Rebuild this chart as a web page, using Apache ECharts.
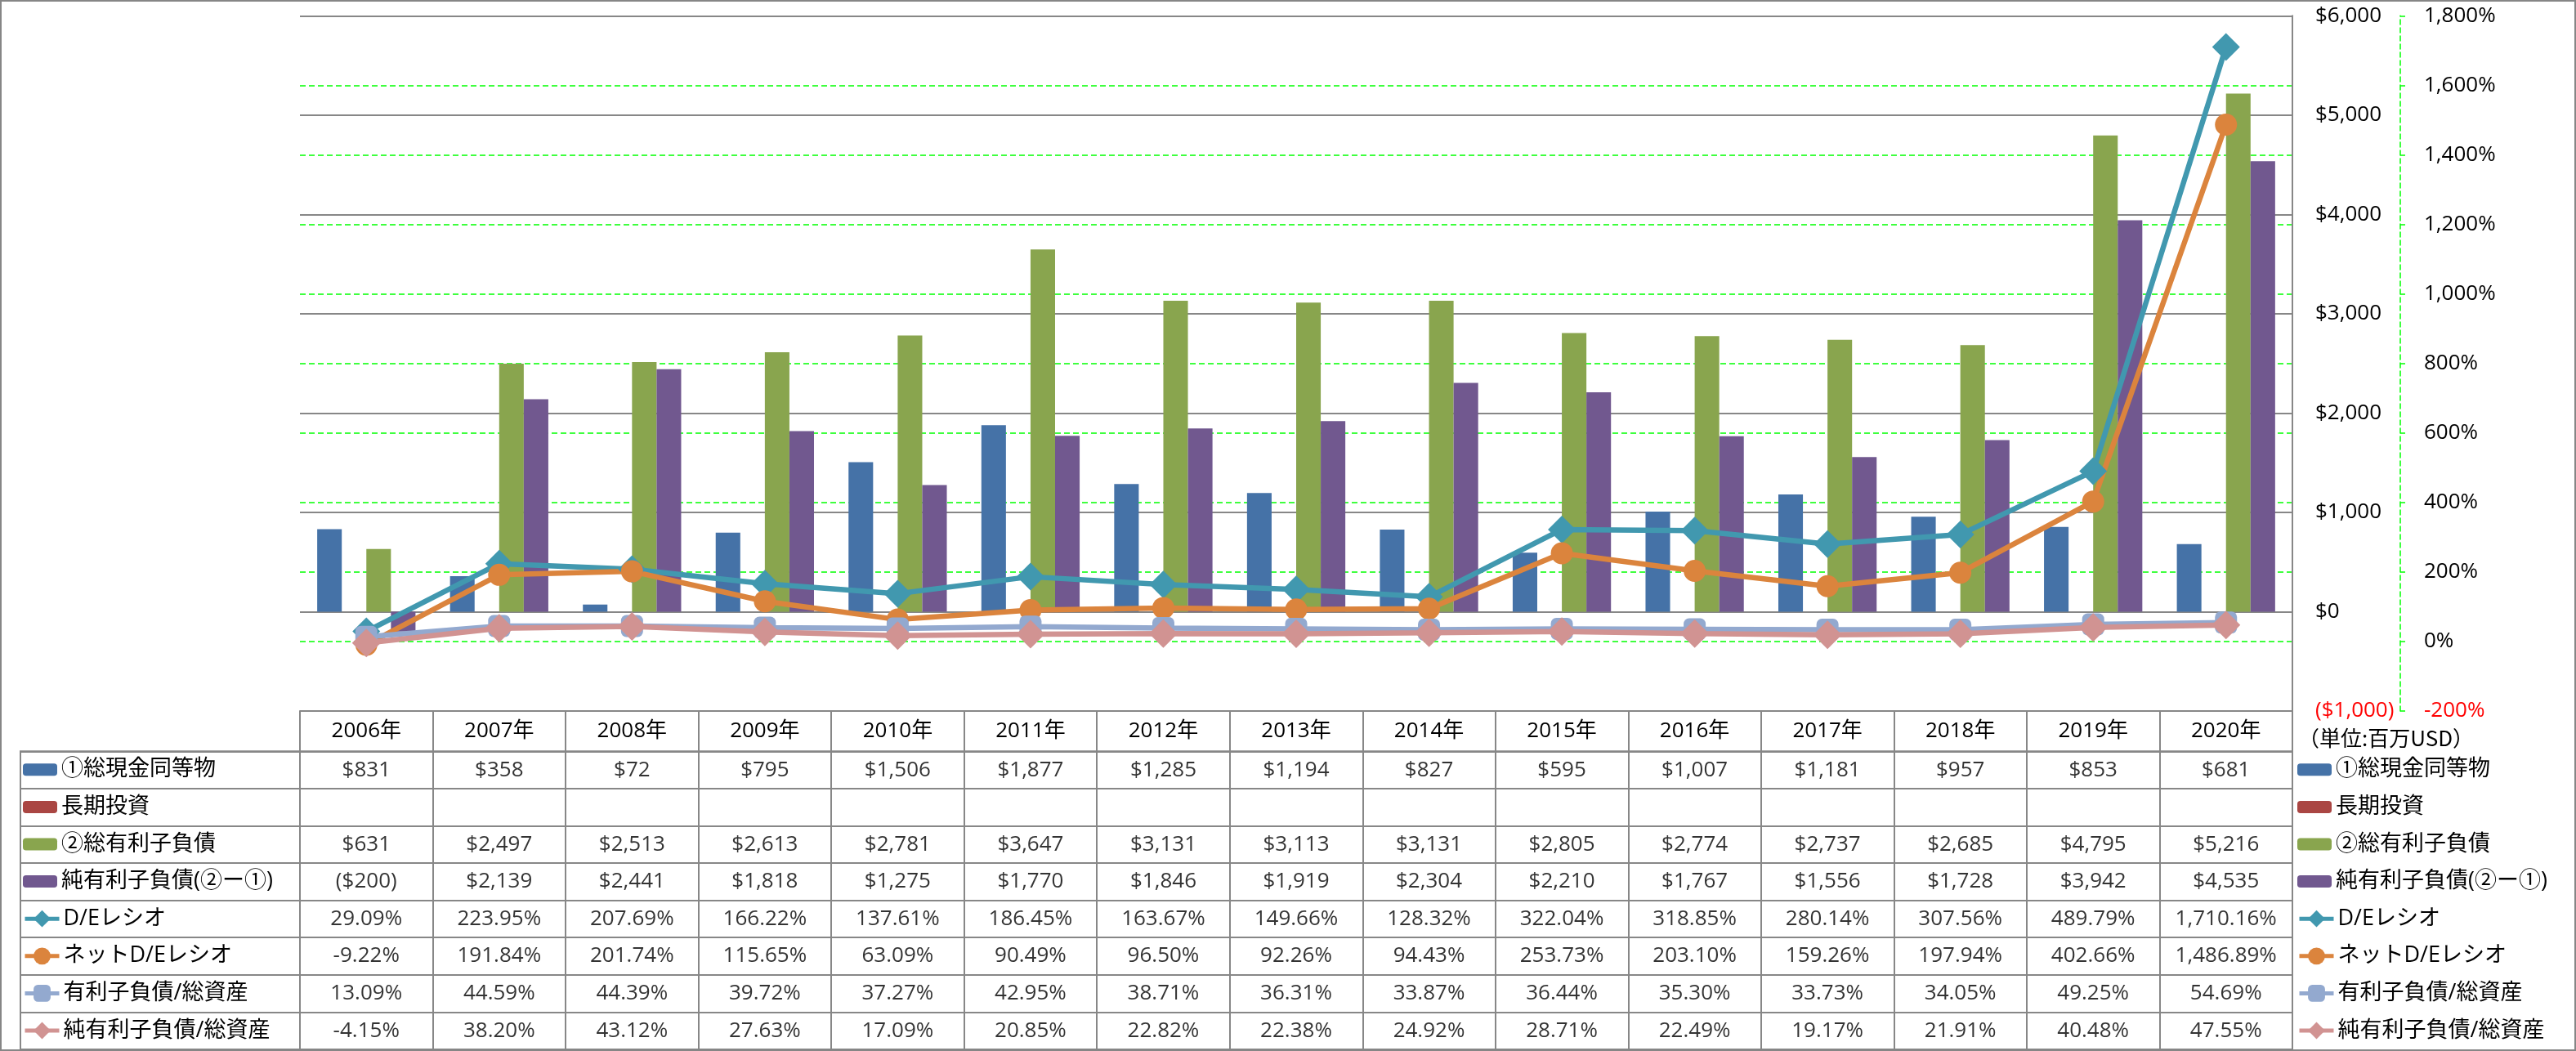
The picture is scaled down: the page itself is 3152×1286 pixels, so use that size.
<!DOCTYPE html>
<html><head><meta charset="utf-8">
<script src="https://cdn.jsdelivr.net/npm/echarts@6/dist/echarts.min.js"></script>
<style>
html,body{margin:0;padding:0;background:#fff;}
#c{position:absolute;left:0;top:0;width:3152px;height:1286px;}
#frame{position:absolute;left:0;top:0;width:3152px;height:1286px;box-sizing:border-box;border:2px solid #868686;pointer-events:none;}
</style></head>
<body><div id="c"></div><div id="frame"></div>
<script>
// ---------- data ----------
const years = ['2006年','2007年','2008年','2009年','2010年','2011年','2012年','2013年','2014年','2015年','2016年','2017年','2018年','2019年','2020年'];
const seriesNames = ['①総現金同等物','長期投資','②総有利子負債','純有利子負債(②ー①)','D/Eレシオ','ネットD/Eレシオ','有利子負債/総資産','純有利子負債/総資産'];
const cash = [831,358,72,795,1506,1877,1285,1194,827,595,1007,1181,957,853,681];
const longTermInv = [null,null,null,null,null,null,null,null,null,null,null,null,null,null,null];
const debt = [631,2497,2513,2613,2781,3647,3131,3113,3131,2805,2774,2737,2685,4795,5216];
const netDebt = [-200,2139,2441,1818,1275,1770,1846,1919,2304,2210,1767,1556,1728,3942,4535];
const deRatio = [29.09,223.95,207.69,166.22,137.61,186.45,163.67,149.66,128.32,322.04,318.85,280.14,307.56,489.79,1710.16];
const netDeRatio = [-9.22,191.84,201.74,115.65,63.09,90.49,96.50,92.26,94.43,253.73,203.10,159.26,197.94,402.66,1486.89];
const debtToAssets = [13.09,44.59,44.39,39.72,37.27,42.95,38.71,36.31,33.87,36.44,35.30,33.73,34.05,49.25,54.69];
const netDebtToAssets = [-4.15,38.20,43.12,27.63,17.09,20.85,22.82,22.38,24.92,28.71,22.49,19.17,21.91,40.48,47.55];
const unitLabel = '（単位:百万USD）';

// ---------- helpers ----------
function grp(n){ return String(n).replace(/\B(?=(\d{3})+(?!\d))/g, ','); }
function fmtUsd(v){ return v < 0 ? '($' + grp(Math.abs(v)) + ')' : '$' + grp(v); }
function fmtPct(v, dec){
  const neg = v < 0; const a = Math.abs(v).toFixed(dec); const parts = a.split('.');
  return (neg ? '-' : '') + grp(parts[0]) + (parts[1] ? '.' + parts[1] : '') + '%';
}
const FONT = "'Open Sans','Noto Sans CJK JP',sans-serif";
const GRAY = '#878787';
const GREEN = '#00ff00';
const colors = ['#4572A7','#AA4643','#89A54E','#71588F','#4198AF','#DB843D','#93A9CF','#D19392'];

const rows = [cash, longTermInv, debt, netDebt, deRatio, netDeRatio, debtToAssets, netDebtToAssets];
const kinds = ['usd','usd','usd','usd','pct','pct','pct','pct'];
const tableData = [];
rows.forEach((arr, r) => {
  arr.forEach((v, i) => {
    if (v === null || v === undefined) return;
    tableData.push({ value: [i, r], txt: kinds[r] === 'usd' ? fmtUsd(v) : fmtPct(v, 2) });
  });
});

const chart = echarts.init(document.getElementById('c'), null, { renderer: 'canvas' });

const barBase = { type: 'bar', xAxisIndex: 0, yAxisIndex: 0, barGap: '0%', barCategoryGap: '26%' };
const lineBase = { type: 'line', xAxisIndex: 0, yAxisIndex: 1, z: 5 };

const ROW0 = 941.8, ROWH = 45.6;
function legendBlock(left, names, firstRow, itemH){
  return {
    orient: 'vertical', left: left, top: ROW0 + firstRow * ROWH - 15, padding: 0, itemGap: ROWH - 30,
    itemWidth: 42, itemHeight: itemH, selectedMode: false,
    lineStyle: { width: 5 },
    textStyle: { fontSize: 27, color: '#000', fontFamily: FONT, lineHeight: 30 },
    data: names
  };
}

const option = {
  backgroundColor: '#fff',
  animation: false,
  textStyle: { fontFamily: FONT },
  title: {
    text: unitLabel, left: 2812, top: 890, padding: 0,
    textStyle: { fontSize: 26, fontWeight: 'normal', color: '#000', fontFamily: "'Noto Sans CJK JP',sans-serif" }
  },
  legend: [
    legendBlock(28, seriesNames.slice(0, 4), 0, 15),
    legendBlock(28, seriesNames.slice(4), 4, 26),
    legendBlock(2811, seriesNames.slice(0, 4), 0, 15),
    legendBlock(2811, seriesNames.slice(4), 4, 26)
  ],
  grid: [
    { left: 367, top: 19.3, width: 2438, height: 850.7, outerBoundsMode: 'none', containLabel: false },
    { left: 367, top: 919.3, width: 2438, height: 364.7, outerBoundsMode: 'none', containLabel: false,
      show: true, borderColor: GRAY, borderWidth: 2, backgroundColor: 'transparent' },
    { left: 25, top: 919.3, width: 342, height: 364.7, outerBoundsMode: 'none', containLabel: false,
      show: true, borderColor: GRAY, borderWidth: 2, backgroundColor: 'transparent' }
  ],
  xAxis: [
    { type: 'category', gridIndex: 0, data: years, position: 'bottom',
      axisLine: { show: true, onZero: false, lineStyle: { color: GRAY, width: 2 } },
      axisTick: { show: false }, axisLabel: { show: false }, splitLine: { show: false } },
    { type: 'category', gridIndex: 1, data: years, position: 'top',
      axisLine: { show: true, onZero: false, lineStyle: { color: GRAY, width: 2 } },
      axisTick: { show: true, inside: false, length: 49.3, alignWithLabel: false, interval: 0, lineStyle: { color: GRAY, width: 2 } },
      axisLabel: { show: true, interval: 0, margin: 12, fontSize: 26, color: '#000', fontFamily: FONT },
      splitLine: { show: true, interval: 0, lineStyle: { color: GRAY, width: 2 } } },
    { type: 'value', gridIndex: 2, min: 0, max: 1, show: false }
  ],
  yAxis: [
    { type: 'value', gridIndex: 0, position: 'right', min: -1000, max: 6000, interval: 1000, z: 2,
      axisLine: { show: true, onZero: false, lineStyle: { color: GRAY, width: 2 } },
      axisTick: { show: false },
      axisLabel: { margin: 28, fontSize: 26, fontFamily: FONT,
        formatter: v => fmtUsd(v), color: v => (v < 0 ? '#ff0000' : '#000') },
      splitLine: { show: true, lineStyle: { color: GRAY, width: 2 } } },
    { type: 'value', gridIndex: 0, position: 'right', offset: 132, min: -200, max: 1800, interval: 200, z: 1,
      axisLine: { show: true, onZero: false, lineStyle: { color: GREEN, width: 1.5, type: [6, 4] } },
      axisTick: { show: true, inside: false, length: 10, lineStyle: { color: GREEN, width: 1.5, type: [6, 4] } },
      axisLabel: { margin: 29, fontSize: 26, fontFamily: FONT,
        formatter: v => fmtPct(v, 0), color: v => (v < 0 ? '#ff0000' : '#000') },
      splitLine: { show: true, lineStyle: { color: GREEN, width: 1.5, type: [7, 4] } } },
    { type: 'category', gridIndex: 1, data: seriesNames, inverse: true,
      axisLine: { show: false }, axisTick: { show: false }, axisLabel: { show: false },
      splitLine: { show: true, interval: 0, lineStyle: { color: GRAY, width: 2 } } },
    { type: 'category', gridIndex: 2, data: seriesNames, inverse: true,
      axisLine: { show: false }, axisTick: { show: false }, axisLabel: { show: false },
      splitLine: { show: true, interval: 0, lineStyle: { color: GRAY, width: 2 } } }
  ],
  series: [
    Object.assign({}, barBase, { name: seriesNames[0], data: cash, itemStyle: { color: colors[0] } }),
    Object.assign({}, barBase, { name: seriesNames[1], data: longTermInv, itemStyle: { color: colors[1] } }),
    Object.assign({}, barBase, { name: seriesNames[2], data: debt, itemStyle: { color: colors[2] } }),
    Object.assign({}, barBase, { name: seriesNames[3], data: netDebt, itemStyle: { color: colors[3] } }),
    Object.assign({}, lineBase, { name: seriesNames[4], data: deRatio, symbol: 'diamond', symbolSize: 34,
      lineStyle: { color: colors[4], width: 6.5 }, itemStyle: { color: colors[4] } }),
    Object.assign({}, lineBase, { name: seriesNames[5], data: netDeRatio, symbol: 'circle', symbolSize: 27,
      lineStyle: { color: colors[5], width: 6.5 }, itemStyle: { color: colors[5] } }),
    Object.assign({}, lineBase, { name: seriesNames[6], data: debtToAssets, symbol: 'roundRect', symbolSize: 27,
      lineStyle: { color: colors[6], width: 6.5 }, itemStyle: { color: colors[6] } }),
    Object.assign({}, lineBase, { name: seriesNames[7], data: netDebtToAssets, symbol: 'diamond', symbolSize: 35,
      lineStyle: { color: colors[7], width: 6.5 }, itemStyle: { color: colors[7] } }),
    { type: 'scatter', name: 'table', xAxisIndex: 1, yAxisIndex: 2, symbolSize: 1,
      itemStyle: { color: 'rgba(0,0,0,0)' }, silent: true, z: 10,
      label: { show: true, position: 'inside', fontSize: 26, color: '#000', fontFamily: FONT,
        formatter: p => p.data.txt },
      data: tableData }
  ]
};
chart.setOption(option);
</script>
</body></html>
